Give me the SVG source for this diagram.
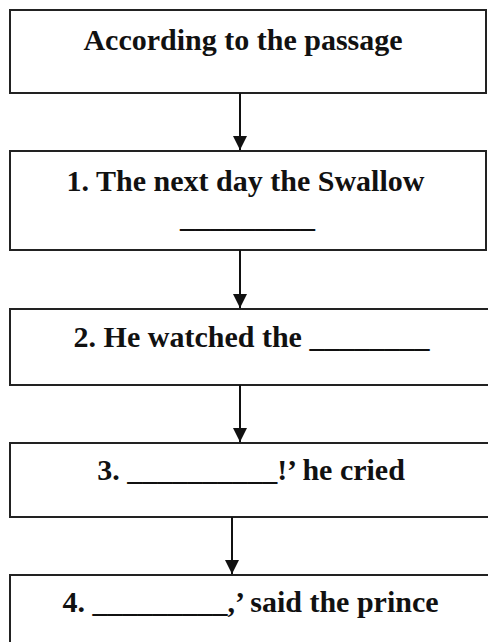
<svg xmlns="http://www.w3.org/2000/svg" width="488" height="642" viewBox="0 0 488 642">
<style>
.box{fill:#ffffff;stroke:#222222;stroke-width:2}
.lbl{font-family:"Liberation Serif","Times New Roman",serif;font-weight:bold;font-size:30px;fill:#111111;text-anchor:middle}
.conn{stroke:#111111;stroke-width:2;fill:none}
</style>
<defs>
<marker id="ah" viewBox="0 0 14 14" refX="14" refY="7" markerWidth="14" markerHeight="14" markerUnits="userSpaceOnUse" orient="auto">
<path d="M0,0 L14,7 L0,14 Z" fill="#111111"/>
</marker>
</defs>
<rect width="488" height="642" fill="#ffffff"/>
<g id="node-0">
<rect class="box" x="10" y="10" width="476" height="83"/>
<text class="lbl" x="243" y="50">According to the passage</text>
</g>
<g id="node-1">
<rect class="box" x="10" y="151" width="476" height="99"/>
<text class="lbl" x="245.5" y="191">1. The next day the Swallow</text>
<text class="lbl" x="247.5" y="227">_________</text>
</g>
<g id="node-2">
<rect class="box" x="10" y="309" width="500" height="76"/>
<text class="lbl" x="251.5" y="347">2. He watched the ________</text>
</g>
<g id="node-3">
<rect class="box" x="10" y="443" width="500" height="74"/>
<text class="lbl" x="251" y="480">3. __________!’ he cried</text>
</g>
<g id="node-4">
<rect class="box" x="10" y="575" width="500" height="80"/>
<text class="lbl" x="250.5" y="612">4. _________,’ said the prince</text>
</g>
<g id="connectors">
<line class="conn" x1="240" y1="93" x2="240" y2="150" marker-end="url(#ah)"/>
<line class="conn" x1="240" y1="250" x2="240" y2="308" marker-end="url(#ah)"/>
<line class="conn" x1="240" y1="385" x2="240" y2="442" marker-end="url(#ah)"/>
<line class="conn" x1="232" y1="517" x2="232" y2="574" marker-end="url(#ah)"/>
</g>
</svg>
